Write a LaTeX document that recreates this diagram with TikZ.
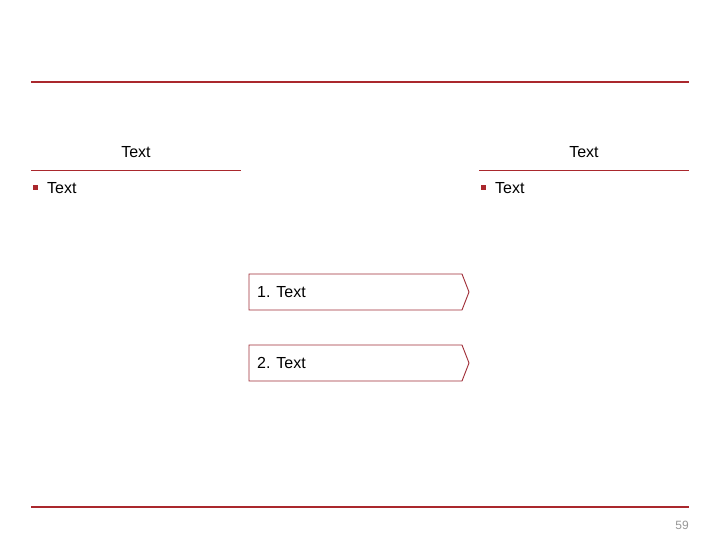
\documentclass[tikz,border=0pt]{standalone}
\usepackage{fontspec}
\setmainfont{Liberation Sans}
\definecolor{dred}{RGB}{170,40,45}
\definecolor{bred}{RGB}{160,45,55}
\definecolor{ngray}{RGB}{150,150,150}
\begin{document}
\begin{tikzpicture}[x=1pt,y=-1pt,
  rule/.style={draw=dred,line width=2pt},
  thinrule/.style={draw=dred,line width=0.9pt},
  lbl/.style={font=\fontsize{16}{18}\selectfont,inner sep=0pt,text=black},
  bul/.style={fill=dred,minimum size=5pt,inner sep=0pt},
  chev/.style={draw=bred,line width=0.9pt,fill=white}]
\useasboundingbox (0,0) rectangle (720,540);
\coordinate (t1) at (31,82); \coordinate (t2) at (689,82);
\draw[rule] (t1) -- (t2);
\coordinate (b1) at (31,507); \coordinate (b2) at (689,507);
\draw[rule] (b1) -- (b2);
\coordinate (l1) at (31,170); \coordinate (l2) at (241,170);
\draw[thinrule] (l1) -- (l2);
\coordinate (r1) at (479,170); \coordinate (r2) at (689,170);
\draw[thinrule] (r1) -- (r2);
\node[lbl] (hl) at (136,152) {Text};
\node[lbl] (hr) at (584,152) {Text};
\node[bul] (bl) at (35,188) {};
\node[lbl,anchor=west] (tl) at (47,188) {Text};
\node[bul] (br) at (483,188) {};
\node[lbl,anchor=west] (tr) at (495,188) {Text};
\draw[chev] (249,274) -- (462,274) -- (469,292) -- (462,310) -- (249,310) -- cycle;
\node[lbl,anchor=west] (c1) at (257,292) {1. Text};
\draw[chev] (249,345) -- (462,345) -- (469,363) -- (462,381) -- (249,381) -- cycle;
\node[lbl,anchor=west] (c2) at (257,363) {2. Text};
\node[font=\fontsize{12}{14}\selectfont,text=ngray,inner sep=0pt,anchor=east] (pg) at (689,525) {59};
\end{tikzpicture}
\end{document}
